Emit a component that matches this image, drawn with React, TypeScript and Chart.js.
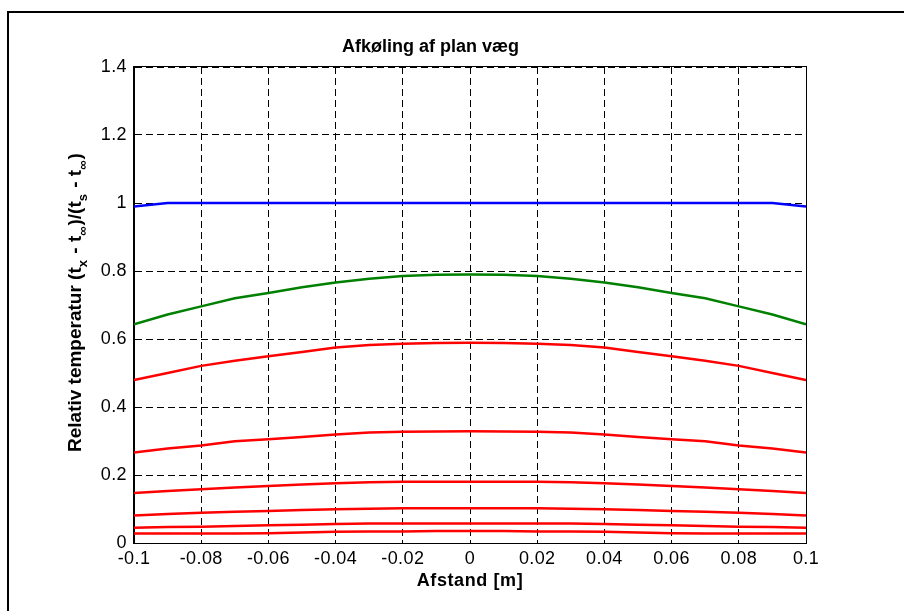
import React, { useEffect, useRef } from "react";
import { Chart, registerables } from "chart.js";

Chart.register(...registerables);

const xPositions = [-0.1, -0.09, -0.08, -0.07, -0.06, -0.05, -0.04, -0.03, -0.02, -0.01, 0, 0.01, 0.02, 0.03, 0.04, 0.05, 0.06, 0.07, 0.08, 0.09, 0.1];

const blueCurve = [0.99, 1, 1, 1, 1, 1, 1, 1, 1, 1, 1, 1, 1, 1, 1, 1, 1, 1, 1, 1, 0.99];
const greenCurve = [0.643, 0.672, 0.696, 0.72, 0.735, 0.752, 0.766, 0.777, 0.785, 0.789, 0.79, 0.789, 0.785, 0.777, 0.766, 0.752, 0.735, 0.72, 0.696, 0.672, 0.643];
const redCurve1 = [0.479, 0.5, 0.521, 0.536, 0.549, 0.562, 0.575, 0.582, 0.586, 0.588, 0.589, 0.588, 0.586, 0.582, 0.575, 0.562, 0.549, 0.536, 0.521, 0.5, 0.479];
const redCurve2 = [0.266, 0.278, 0.287, 0.299, 0.305, 0.312, 0.319, 0.325, 0.327, 0.328, 0.329, 0.328, 0.327, 0.325, 0.319, 0.312, 0.305, 0.299, 0.287, 0.278, 0.266];
const redCurve3 = [0.147, 0.153, 0.158, 0.163, 0.168, 0.172, 0.176, 0.179, 0.18, 0.18, 0.18, 0.18, 0.18, 0.179, 0.176, 0.172, 0.168, 0.163, 0.158, 0.153, 0.147];
const redCurve4 = [0.081, 0.085, 0.089, 0.092, 0.094, 0.097, 0.099, 0.101, 0.102, 0.102, 0.102, 0.102, 0.102, 0.101, 0.099, 0.097, 0.094, 0.092, 0.089, 0.085, 0.081];
const redCurve5 = [0.045, 0.047, 0.048, 0.05, 0.052, 0.054, 0.056, 0.057, 0.057, 0.057, 0.057, 0.057, 0.057, 0.057, 0.056, 0.054, 0.052, 0.05, 0.048, 0.047, 0.045];
const redCurve6 = [0.028, 0.028, 0.028, 0.028, 0.029, 0.031, 0.033, 0.034, 0.034, 0.035, 0.035, 0.035, 0.034, 0.034, 0.033, 0.031, 0.029, 0.028, 0.028, 0.028, 0.028];

const chartTitle = "Afkøling af plan væg";
const xAxisTitle = "Afstand [m]";

const FONT = "Arial, 'Liberation Sans', Helvetica, sans-serif";

const toPoints = (ys: number[]) => xPositions.map((x, i) => ({ x, y: ys[i] }));
const fmt = (v: number) => String(Math.round(v * 100) / 100);

const decorPlugin = {
  id: "decor",
  beforeDraw(chart: any) {
    const ctx = chart.ctx;
    ctx.save();
    ctx.fillStyle = "#fff";
    ctx.fillRect(0, 0, chart.width, chart.height);
    ctx.fillStyle = "#000";
    ctx.fillRect(8, 11, chart.width, 2);
    ctx.fillRect(7, 11, 2, chart.height);
    ctx.restore();
    try {
      ctx.letterSpacing = "0.4px";
    } catch (e) {}
  },
  afterDraw(chart: any) {
    const ctx = chart.ctx;
    const { left, right, top, bottom } = chart.chartArea;
    ctx.save();
    ctx.strokeStyle = "#000";
    ctx.lineWidth = 1;
    ctx.setLineDash([]);
    ctx.strokeRect(Math.round(left) - 0.5, Math.round(top) - 0.5, Math.round(right - left) + 1, Math.round(bottom - top) + 1);

    ctx.fillStyle = "#000";
    ctx.textBaseline = "alphabetic";
    try {
      ctx.letterSpacing = "0px";
    } catch (e) {}
    ctx.font = `bold 18px ${FONT}`;
    ctx.textAlign = "center";
    ctx.fillText(chartTitle, 430.5, 52);
    try {
      ctx.letterSpacing = "0.6px";
    } catch (e) {}
    ctx.fillText(xAxisTitle, (left + right) / 2, 586);
    try {
      ctx.letterSpacing = "0px";
    } catch (e) {}

    // rotated y-axis label with subscripts
    ctx.translate(81, 452);
    ctx.rotate(-Math.PI / 2);
    ctx.textAlign = "left";
    const segs: [string, boolean][] = [
      ["Relativ temperatur (t", false],
      ["x", true],
      [" - t", false],
      ["\u221E", true],
      [")/(t", false],
      ["s", true],
      [" - t", false],
      ["\u221E", true],
      [")", false],
    ];
    let cx = 0;
    for (const [s, sub] of segs) {
      ctx.font = sub ? `bold 13px ${FONT}` : `bold 19px ${FONT}`;
      ctx.fillText(s, cx, sub ? 6 : 0);
      cx += ctx.measureText(s).width + (sub ? 1 : 0);
    }
    ctx.restore();
  },
};

export default function App() {
  const ref = useRef<HTMLCanvasElement | null>(null);
  useEffect(() => {
    if (!ref.current) return;
    const mk = (label: string, ys: number[], color: string) => ({
      label,
      data: toPoints(ys),
      borderColor: color,
      backgroundColor: color,
      borderWidth: 2.5,
      pointRadius: 0,
      tension: 0,
      fill: false,
    });
    const chart = new Chart(ref.current, {
      type: "line",
      data: {
        datasets: [
          mk("t1", blueCurve, "#0000ff"),
          mk("t2", greenCurve, "#008000"),
          mk("t3", redCurve1, "#ff0000"),
          mk("t4", redCurve2, "#ff0000"),
          mk("t5", redCurve3, "#ff0000"),
          mk("t6", redCurve4, "#ff0000"),
          mk("t7", redCurve5, "#ff0000"),
          mk("t8", redCurve6, "#ff0000"),
        ],
      },
      options: {
        animation: false,
        responsive: false,
        devicePixelRatio: 1,
        layout: { padding: { top: 67, right: 98, left: 0, bottom: 0 } },
        plugins: {
          legend: { display: false },
          title: { display: false },
          tooltip: { enabled: false },
        },
        scales: {
          x: {
            type: "linear",
            min: -0.1,
            max: 0.1,
            afterFit: (s: any) => {
              s.height = 68;
            },
            ticks: {
              stepSize: 0.02,
              callback: (v: any) => fmt(Number(v)),
              color: "#000",
              font: { family: FONT, size: 18 },
              padding: 5,
              maxRotation: 0,
              autoSkip: false,
            },
            grid: { color: "#000", lineWidth: 1, drawTicks: false },
            border: { display: true, color: "#000", dash: [7, 4] },
          },
          y: {
            type: "linear",
            min: 0,
            max: 1.4,
            afterFit: (s: any) => {
              s.width = 134;
            },
            ticks: {
              stepSize: 0.2,
              callback: (v: any) => fmt(Number(v)),
              color: "#000",
              font: { family: FONT, size: 18 },
              padding: 7,
              autoSkip: false,
            },
            grid: { color: "#000", lineWidth: 1, drawTicks: false },
            border: { display: true, color: "#000", dash: [7, 4] },
          },
        },
      },
      plugins: [decorPlugin],
    } as any);
    return () => chart.destroy();
  }, []);
  return (
    <div style={{ position: "fixed", left: 0, top: 0, width: 904, height: 611, overflow: "hidden", background: "#fff" }}>
      <canvas ref={ref} width={904} height={611} style={{ display: "block", width: 904, height: 611 }} />
    </div>
  );
}
